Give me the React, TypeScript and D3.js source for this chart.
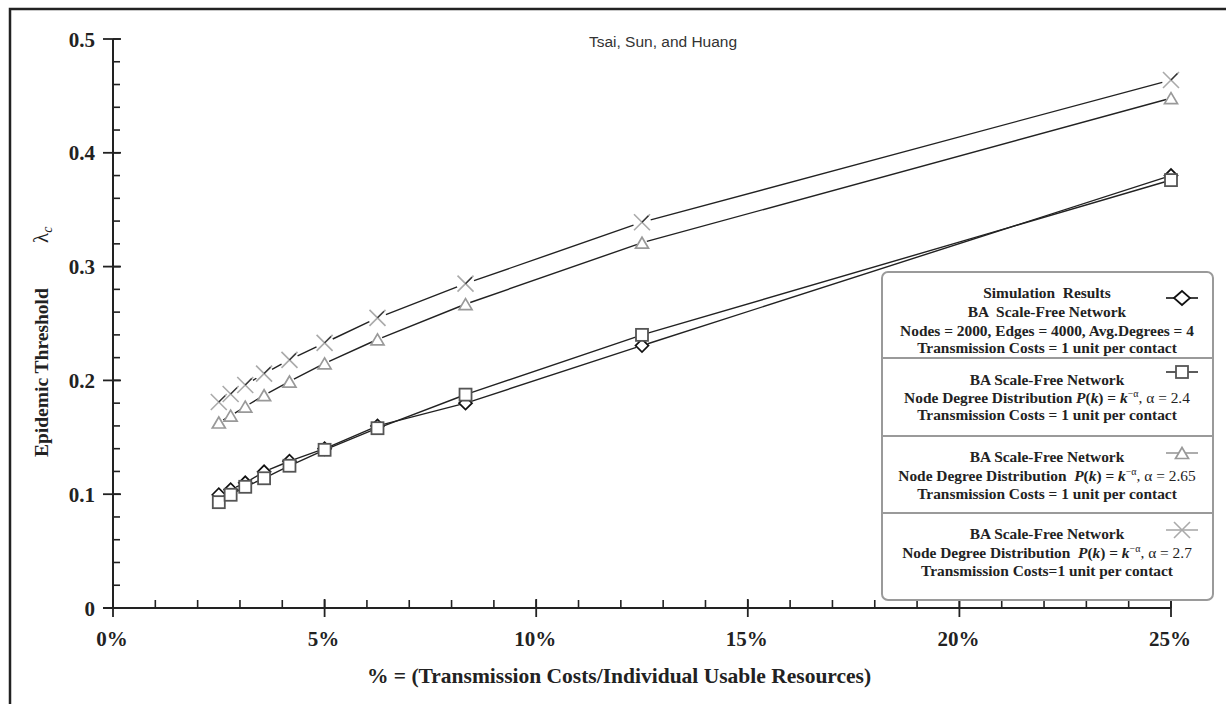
import React from 'react';
import * as d3 from 'd3';

// ---------- data ----------
const xPercent = [2.5, 2.78, 3.125, 3.57, 4.17, 5, 6.25, 8.33, 12.5, 25];
const simulation = [0.0995, 0.104, 0.110, 0.1197, 0.129, 0.140, 0.160, 0.180, 0.2306, 0.380];
const alpha24 = [0.093, 0.0995, 0.1065, 0.114, 0.125, 0.139, 0.158, 0.1875, 0.240, 0.376];
const alpha265 = [0.163, 0.169, 0.177, 0.187, 0.199, 0.215, 0.236, 0.267, 0.321, 0.448];
const alpha27 = [0.181, 0.188, 0.196, 0.206, 0.218, 0.233, 0.255, 0.285, 0.339, 0.464];

const yTicks = [0, 0.1, 0.2, 0.3, 0.4, 0.5];
const xTicks = [0, 5, 10, 15, 20, 25];
const yMinor = d3.range(0, 0.5001, 0.02);
const xMinor = d3.range(0, 25.001, 1);

const SERIF = '"Liberation Serif", "Times New Roman", serif';
const SANS = '"Liberation Sans", Arial, sans-serif';

type MarkerKind = 'diamond' | 'square' | 'triangle' | 'cross';

const x = d3.scaleLinear().domain([0, 25]).range([113, 1171]);
const y = d3.scaleLinear().domain([0, 0.5]).range([608, 39]);

function Marker({ kind, cx, cy, plot, big }: { kind: MarkerKind; cx: number; cy: number; plot?: boolean; big?: boolean }) {
  if (kind === 'diamond') {
    const w = big ? 8 : 6.5, h = big ? 7 : 6.5;
    return <path d={`M${cx - w},${cy}L${cx},${cy - h}L${cx + w},${cy}L${cx},${cy + h}Z`} fill="#fff" stroke="#111" strokeWidth={1.7} />;
  }
  if (kind === 'square') {
    const s = 6;
    return <rect x={cx - s} y={cy - s} width={2 * s} height={2 * s} fill="#fff" stroke="#555" strokeWidth={1.8} />;
  }
  if (kind === 'triangle') {
    const w = 6.5, h = 11;
    return <path d={`M${cx - w},${cy + h / 2}L${cx},${cy - h / 2}L${cx + w},${cy + h / 2}Z`} fill="#fff" stroke="#999" strokeWidth={1.7} />;
  }
  const s = 8;
  return (
    <g>
      <path d={`M${cx - s},${cy - s}L${cx + s},${cy + s}M${cx - s},${cy + s}L${cx + s},${cy - s}`} stroke="#aaa" strokeWidth={1.6} fill="none" />
      {plot && <path d={`M${cx},${cy}L${cx + s * 0.8},${cy - s * 0.8}`} stroke="#333" strokeWidth={1.3} />}
    </g>
  );
}

function trimmedSegments(xs: number[], ys: number[], gap: number) {
  const out: string[] = [];
  for (let i = 0; i < xs.length - 1; i++) {
    const x1 = x(xs[i]), y1 = y(ys[i]), x2 = x(xs[i + 1]), y2 = y(ys[i + 1]);
    const dx = x2 - x1, dy = y2 - y1;
    const len = Math.hypot(dx, dy);
    if (len <= 2 * gap) continue;
    const ux = dx / len, uy = dy / len;
    out.push(`M${x1 + ux * gap},${y1 + uy * gap}L${x2 - ux * gap},${y2 - uy * gap}`);
  }
  return out.join('');
}

const series: { values: number[]; kind: MarkerKind; gap: number }[] = [
  { values: simulation, kind: 'diamond', gap: 6 },
  { values: alpha24, kind: 'square', gap: 6 },
  { values: alpha265, kind: 'triangle', gap: 5 },
  { values: alpha27, kind: 'cross', gap: 9 },
];

const LX = 1047;
const LFS = 15.4;

function NodeDist({ yy, a, gap }: { yy: number; a: string; gap: string }) {
  return (
    <text x={LX} y={yy} textAnchor="middle" fontFamily={SERIF} fontSize={LFS} fontWeight="bold" fill="#222" style={{ whiteSpace: 'pre' }}>
      <tspan>{'Node Degree Distribution' + gap}</tspan>
      <tspan fontStyle="italic">P</tspan>
      <tspan>(</tspan>
      <tspan fontStyle="italic">k</tspan>
      <tspan>{') = '}</tspan>
      <tspan fontStyle="italic">k</tspan>
      <tspan fontSize={10} dy={-6} fontWeight="normal">−α</tspan>
      <tspan dy={6} fontWeight="normal">{', α = ' + a}</tspan>
    </text>
  );
}

function LegText({ yy, t }: { yy: number; t: string }) {
  return (
    <text x={LX} y={yy} textAnchor="middle" fontFamily={SERIF} fontSize={LFS} fontWeight="bold" fill="#222" style={{ whiteSpace: 'pre' }}>
      {t}
    </text>
  );
}

function LegMarker({ kind, yy, lineColor }: { kind: MarkerKind; yy: number; lineColor: string }) {
  return (
    <g>
      <line x1={1166} x2={1198} y1={yy} y2={yy} stroke={lineColor} strokeWidth={1.6} />
      <Marker kind={kind} cx={1182} cy={yy} big />
    </g>
  );
}

export default function App() {
  return (
    <svg width={1226} height={704} style={{ position: 'absolute', left: 0, top: 0, background: '#fff' }}>
      <rect x={0} y={0} width={1226} height={704} fill="#fff" />
      {/* frame */}
      <path d="M10,704L10,9L1226,9" fill="none" stroke="#222" strokeWidth={2.5} />

      {/* title */}
      <text x={663} y={47} textAnchor="middle" fontFamily={SANS} fontSize={15.5} fill="#333">Tsai, Sun, and Huang</text>

      {/* y axis */}
      <line x1={113} x2={113} y1={y(0.5)} y2={y(0)} stroke="#222" strokeWidth={2} />
      {yMinor.map((v, i) => (
        <line key={'ym' + i} x1={113} x2={120} y1={y(v)} y2={y(v)} stroke="#222" strokeWidth={1.6} />
      ))}
      {yTicks.map((v) => (
        <g key={'yt' + v}>
          <line x1={103} x2={121} y1={y(v)} y2={y(v)} stroke="#222" strokeWidth={1.8} />
          <text x={95} y={y(v) + 7.5} textAnchor="end" fontFamily={SERIF} fontSize={21} fontWeight="bold" fill="#222">
            {v === 0 ? '0' : d3.format('.1f')(v)}
          </text>
        </g>
      ))}

      {/* x axis */}
      <line x1={103} x2={x(25)} y1={y(0)} y2={y(0)} stroke="#222" strokeWidth={2} />
      {xMinor.map((v, i) => (
        <line key={'xm' + i} x1={x(v)} x2={x(v)} y1={y(0)} y2={y(0) - 8} stroke="#222" strokeWidth={1.6} />
      ))}
      {xTicks.map((v) => (
        <g key={'xt' + v}>
          <line x1={x(v)} x2={x(v)} y1={y(0) - 9} y2={y(0) + 9} stroke="#222" strokeWidth={1.8} />
          <text x={x(v) - 1} y={646} textAnchor="middle" fontFamily={SERIF} fontSize={21} fontWeight="bold" fill="#222">
            {v + '%'}
          </text>
        </g>
      ))}

      {/* axis labels */}
      <text x={619} y={683} textAnchor="middle" fontFamily={SERIF} fontSize={21.5} fontWeight="bold" fill="#222">
        % = (Transmission Costs/Individual Usable Resources)
      </text>
      <g transform="translate(48,457) rotate(-90)">
        <text x={0} y={0} fontFamily={SERIF} fontSize={19.5} fontWeight="bold" fill="#222">Epidemic Threshold</text>
        <text x={214} y={0} fontFamily={SERIF} fontSize={21} fill="#222">
          λ<tspan fontStyle="italic" fontSize={14} dy={4}>c</tspan>
        </text>
      </g>

      {/* series lines */}
      {series.map((s, i) => (
        <path key={'l' + i} d={trimmedSegments(xPercent, s.values, s.gap)} fill="none" stroke="#222" strokeWidth={1.4} />
      ))}
      {/* markers */}
      {series.map((s, i) => (
        <g key={'m' + i}>
          {s.values.map((v, j) => (
            <Marker key={j} kind={s.kind} cx={x(xPercent[j])} cy={y(v)} plot />
          ))}
        </g>
      ))}

      {/* legend */}
      <rect x={882} y={272} width={331} height={328} rx={6} fill="#fff" stroke="#9a9a9a" strokeWidth={2} />
      <line x1={882} x2={1213} y1={358} y2={358} stroke="#9a9a9a" strokeWidth={2} />
      <line x1={882} x2={1213} y1={436} y2={436} stroke="#9a9a9a" strokeWidth={2} />
      <line x1={882} x2={1213} y1={513} y2={513} stroke="#9a9a9a" strokeWidth={2} />

      <LegText yy={298} t="Simulation  Results" />
      <LegText yy={317} t="BA  Scale-Free Network" />
      <LegText yy={336} t="Nodes = 2000, Edges = 4000, Avg.Degrees = 4" />
      <LegText yy={353} t="Transmission Costs = 1 unit per contact" />
      <LegMarker kind="diamond" yy={298} lineColor="#111" />

      <LegText yy={385} t="BA Scale-Free Network" />
      <NodeDist yy={403} a="2.4" gap=" " />
      <LegText yy={420} t="Transmission Costs = 1 unit per contact" />
      <LegMarker kind="square" yy={372} lineColor="#333" />

      <LegText yy={462} t="BA Scale-Free Network" />
      <NodeDist yy={481} a="2.65" gap="  " />
      <LegText yy={499} t="Transmission Costs = 1 unit per contact" />
      <LegMarker kind="triangle" yy={453} lineColor="#999" />

      <LegText yy={539} t="BA Scale-Free Network" />
      <NodeDist yy={558} a="2.7" gap="  " />
      <LegText yy={576} t="Transmission Costs=1 unit per contact" />
      <LegMarker kind="cross" yy={530} lineColor="#aaa" />
    </svg>
  );
}
